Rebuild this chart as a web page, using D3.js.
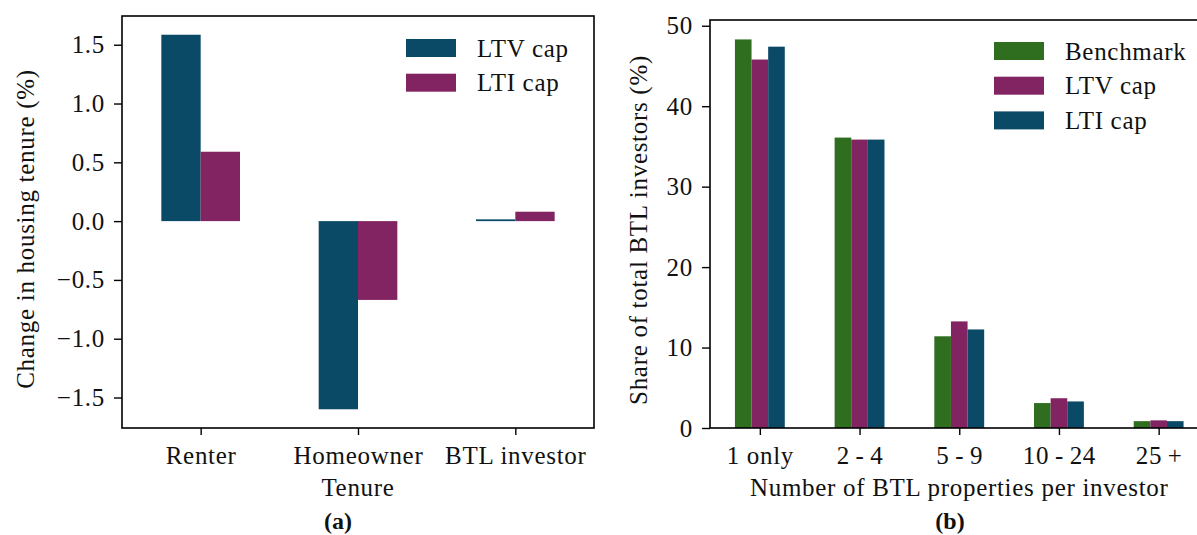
<!DOCTYPE html>
<html>
  <head>
  <meta charset="utf-8">
  <title>Housing tenure and BTL investors</title>
  <script src="https://cdn.jsdelivr.net/npm/d3@7"></script>
  <style type="text/css">
    body { margin: 0; background: #fff; }
    .axis path, .axis line { stroke: #000; }
  </style>
  </head>
  <body>
  </body>
  <script type="text/javascript">

    // panel (a): change in housing tenure (%)
    var tenureCats = ["Renter", "Homeowner", "BTL investor"];
    var tenureLtv = [1.585, -1.60, 0.015];
    var tenureLti = [0.59, -0.67, 0.08];
    var tenureTicks = [-1.5, -1.0, -0.5, 0.0, 0.5, 1.0, 1.5];

    // panel (b): share of total BTL investors (%)
    var sizeCats = ["1 only", "2\u2009-\u20094", "5\u2009-\u20099", "10\u2009-\u200924", "25\u2009+"];
    var shareBench = [48.3, 36.1, 11.4, 3.1, 0.85];
    var shareLtv = [45.8, 35.85, 13.25, 3.7, 0.95];
    var shareLti = [47.4, 35.85, 12.25, 3.3, 0.85];
    var shareTicks = [0, 10, 20, 30, 40, 50];

    var colBlue = "#0b4a66";
    var colPurple = "#822461";
    var colGreen = "#2e6e1e";

    var w = 1197;
    var h = 535;
    var fs = 25;
    var ls = "0.7px";
    var serif = "'Liberation Serif', 'DejaVu Serif', serif";

    var svg = d3.select("body")
          .append("svg")
          .attr("width", w)
          .attr("height", h)
          .style("font-family", serif);

    svg.append("rect").attr("width", w).attr("height", h).attr("fill", "#fff");

    function padded(vals) {
      var lo = d3.min(vals), hi = d3.max(vals);
      var m = (hi - lo) * 0.05;
      return [lo - m, hi + m];
    }

    function frame(g, x0, x1, y0, y1) {
      g.append("rect")
       .attr("x", x0).attr("y", y0)
       .attr("width", x1 - x0).attr("height", y1 - y0)
       .attr("fill", "none")
       .attr("stroke", "#000")
       .attr("stroke-width", 1.6);
    }

    function styleAxis(g) {
      g.attr("class", "axis").attr("font-family", null).attr("font-size", null);
      g.select(".domain").remove();
      g.selectAll(".tick line").attr("stroke-width", 1.4);
      g.selectAll("text")
        .style("font-family", serif)
        .style("letter-spacing", ls)
        .attr("font-size", fs)
        .attr("fill", "#111");
    }

    function label(g, txt, size) {
      return g.append("text")
        .style("font-family", serif)
        .style("letter-spacing", size ? "0px" : ls)
        .attr("font-size", size || fs)
        .attr("fill", "#111")
        .text(txt);
    }

    function legend(g, x, y, names, cols) {
      var item = g.selectAll(".leg")
        .data(names)
        .enter()
        .append("g")
        .attr("transform", function(d, i) { return "translate(" + x + "," + (y + i * 34.7) + ")"; });
      item.append("rect")
        .attr("width", 50).attr("height", 18)
        .attr("fill", function(d, i) { return cols[i]; });
      item.append("text")
        .attr("x", 71).attr("y", 9).attr("dy", "0.35em")
        .style("font-family", serif)
        .style("letter-spacing", ls)
        .attr("font-size", fs)
        .attr("fill", "#111")
        .text(function(d) { return d; });
    }

    // ---------- panel (a)
    var ax0 = 122, ax1 = 594, ay0 = 16, ay1 = 428;
    var xa = d3.scaleLinear().domain([-0.5, tenureCats.length - 0.5]).range([ax0, ax1]);
    var ya = d3.scaleLinear().domain(padded(tenureLtv.concat(tenureLti))).range([ay1, ay0]);
    var ga = svg.append("g");

    ga.selectAll(".ltv")
      .data(tenureLtv)
      .enter()
      .append("rect")
      .attr("x", function(d, i) { return xa(i - 0.25); })
      .attr("width", xa(0.25) - xa(0))
      .attr("y", function(d) { return ya(Math.max(d, 0)); })
      .attr("height", function(d) { return Math.abs(ya(d) - ya(0)); })
      .attr("fill", colBlue);

    ga.selectAll(".lti")
      .data(tenureLti)
      .enter()
      .append("rect")
      .attr("x", function(d, i) { return xa(i); })
      .attr("width", xa(0.25) - xa(0))
      .attr("y", function(d) { return ya(Math.max(d, 0)); })
      .attr("height", function(d) { return Math.abs(ya(d) - ya(0)); })
      .attr("fill", colPurple);

    ga.append("g")
      .attr("transform", "translate(" + ax0 + ",0)")
      .call(d3.axisLeft(ya).tickValues(tenureTicks).tickFormat(d3.format(".1f")).tickSize(8).tickPadding(9))
      .call(styleAxis);

    ga.append("g")
      .attr("transform", "translate(0," + ay1 + ")")
      .call(d3.axisBottom(xa).tickValues(d3.range(tenureCats.length))
            .tickFormat(function(i) { return tenureCats[i]; }).tickSize(7).tickPadding(11))
      .call(styleAxis);

    frame(ga, ax0, ax1, ay0, ay1);
    legend(ga, 406, 39, ["LTV cap", "LTI cap"], [colBlue, colPurple]);

    label(ga, "Change in housing tenure (%)")
      .attr("transform", "translate(34,229) rotate(-90)")
      .attr("text-anchor", "middle");

    label(ga, "Tenure")
      .attr("x", (ax0 + ax1) / 2).attr("y", 496)
      .attr("text-anchor", "middle");

    label(ga, "(a)", 24)
      .attr("x", 338).attr("y", 529)
      .attr("text-anchor", "middle")
      .attr("font-weight", "bold");

    // ---------- panel (b)
    var bx0 = 710, bx1 = 1208.5, by0 = 20, by1 = 428;
    var xb = d3.scaleLinear().domain([-0.5, sizeCats.length - 0.5]).range([bx0, bx1]);
    var yb = d3.scaleLinear().domain([0, d3.max(shareBench.concat(shareLtv, shareLti)) * 1.05]).range([by1, by0]);
    var gb = svg.append("g");

    var series = [shareBench, shareLtv, shareLti];
    var seriesCols = [colGreen, colPurple, colBlue];
    var bw = 1 / 6;

    series.forEach(function(vals, k) {
      gb.selectAll(".s" + k)
        .data(vals)
        .enter()
        .append("rect")
        .attr("x", function(d, i) { return xb(i - 0.25 + k * bw); })
        .attr("width", xb(bw) - xb(0))
        .attr("y", function(d) { return yb(d); })
        .attr("height", function(d) { return yb(0) - yb(d); })
        .attr("fill", seriesCols[k]);
    });

    gb.append("g")
      .attr("transform", "translate(" + bx0 + ",0)")
      .call(d3.axisLeft(yb).tickValues(shareTicks).tickFormat(d3.format("d")).tickSize(8).tickPadding(9))
      .call(styleAxis);

    gb.append("g")
      .attr("transform", "translate(0," + by1 + ")")
      .call(d3.axisBottom(xb).tickValues(d3.range(sizeCats.length))
            .tickFormat(function(i) { return sizeCats[i]; }).tickSize(7).tickPadding(11))
      .call(styleAxis);

    frame(gb, bx0, bx1, by0, by1);
    legend(gb, 994, 42, ["Benchmark", "LTV cap", "LTI cap"], seriesCols);

    label(gb, "Share of total BTL investors (%)")
      .attr("transform", "translate(647,230) rotate(-90)")
      .attr("text-anchor", "middle");

    label(gb, "Number of BTL properties per investor")
      .attr("x", (bx0 + bx1) / 2).attr("y", 496)
      .attr("text-anchor", "middle");

    label(gb, "(b)", 24)
      .attr("x", 950).attr("y", 529)
      .attr("text-anchor", "middle")
      .attr("font-weight", "bold");

  </script>
</html>
